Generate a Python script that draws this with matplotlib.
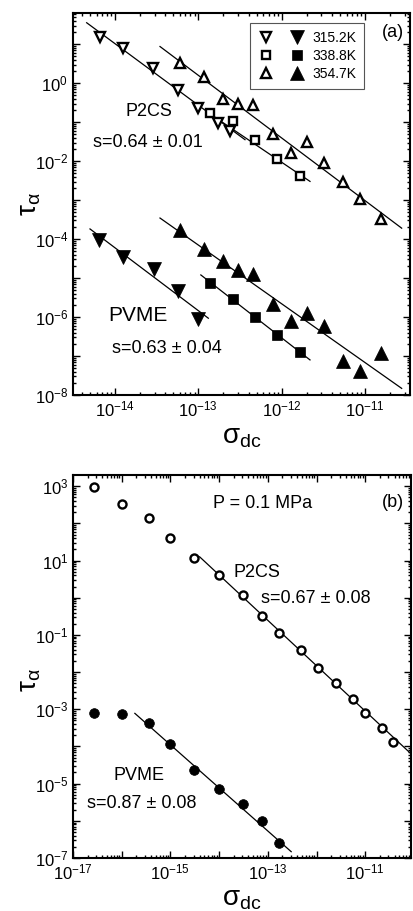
import numpy as np
import matplotlib
matplotlib.use("Agg")
import matplotlib.pyplot as plt
from matplotlib.ticker import LogLocator, FuncFormatter, NullFormatter
from matplotlib.legend_handler import HandlerTuple

plt.rcParams['font.family'] = ['Liberation Sans', 'DejaVu Sans']
plt.rcParams['mathtext.fontset'] = 'custom'
plt.rcParams['mathtext.rm'] = 'Liberation Sans'
plt.rcParams['mathtext.it'] = 'Liberation Sans:italic'
plt.rcParams['mathtext.bf'] = 'Liberation Sans:bold'

# ---------------- panel (a): log10 values ----------------
temps = ['315.2K', '338.8K', '354.7K']

sig_315 = [-14.18, -13.91, -13.54, -13.24, -13.00, -12.77, -12.62]
tau_p2cs_315 = [1.18, 0.90, 0.38, -0.17, -0.64, -1.03, -1.24]
sig_315_pvme = [-14.19, -13.91, -13.53, -13.24, -13.00]
tau_pvme_315 = [-4.02, -4.46, -4.77, -5.34, -6.05]

sig_338 = [-12.86, -12.58, -12.32, -12.06, -11.78]
tau_p2cs_338 = [-0.77, -0.98, -1.47, -1.95, -2.37]
tau_pvme_338 = [-5.13, -5.54, -6.00, -6.45, -6.90]

sig_354 = [-13.22, -12.93, -12.71, -12.52, -12.34, -12.11, -11.89, -11.70,
           -11.49, -11.27, -11.06, -10.81]
tau_p2cs_354 = [0.53, 0.15, -0.40, -0.54, -0.56, -1.30, -1.78, -1.50,
                -2.04, -2.54, -2.97, -3.49]
tau_pvme_354 = [-3.76, -4.26, -4.57, -4.79, -4.89, -5.66, -6.09, -5.90,
                -6.22, -7.14, -7.39, -6.92]

# fit lines (log10 sigma ends, log10 tau ends)
fit_p2cs_315 = ([-14.34, -12.44], [1.55, -1.45])
fit_p2cs_338 = ([-12.90, -11.66], [-0.73, -2.52])
fit_p2cs_354 = ([-13.46, -10.56], [0.94, -3.72])
fit_pvme_315 = ([-14.30, -12.88], [-3.74, -6.03])
fit_pvme_338 = ([-12.97, -11.66], [-4.92, -7.10])
fit_pvme_354 = ([-13.46, -10.56], [-3.46, -7.83])

# ---------------- panel (b): P = 0.1 MPa ----------------
sig_b = [-16.57, -15.99, -15.44, -15.01, -14.52, -14.01, -13.51, -13.12,
         -12.78, -12.31, -11.96, -11.60, -11.26, -11.00, -10.66, -10.42]
tau_p2cs_b = [2.98, 2.53, 2.15, 1.61, 1.08, 0.61, 0.07, -0.49,
              -0.94, -1.41, -1.88, -2.30, -2.73, -3.09, -3.51, -3.88]
sig_b_pvme = [-16.57, -15.99, -15.44, -15.01, -14.52, -14.01, -13.51, -13.12, -12.78]
tau_pvme_b = [-3.11, -3.14, -3.38, -3.94, -4.62, -5.15, -5.55, -6.00, -6.60]

fit_p2cs_b = ([-14.40, -10.00], [1.10, -4.27])
fit_pvme_b = ([-15.73, -12.52], [-3.11, -6.83])


def p10(v):
    return 10.0 ** np.array(v)


def fmt(parity, lo, hi):
    def f(v, pos):
        e = int(round(np.log10(v)))
        if e < lo or e > hi:
            return ''
        if parity is not None and e % 2 != parity:
            return ''
        return r'$\mathregular{10^{%d}}$' % e
    return f


def style_axes(ax, xpar, ypar):
    ax.set_xscale('log')
    ax.set_yscale('log')
    for a in (ax.xaxis, ax.yaxis):
        a.set_major_locator(LogLocator(base=10, numticks=40))
        a.set_minor_locator(LogLocator(base=10, subs=np.arange(2, 10), numticks=40))
        a.set_minor_formatter(NullFormatter())
    x0, x1 = np.log10(ax.get_xlim())
    y0, y1 = np.log10(ax.get_ylim())
    ax.xaxis.set_major_formatter(FuncFormatter(fmt(xpar, np.ceil(x0 - 1e-6), np.floor(x1 + 1e-6))))
    ax.yaxis.set_major_formatter(FuncFormatter(fmt(ypar, np.ceil(y0 - 1e-6), np.floor(y1 + 1e-6))))
    ax.tick_params(which='both', direction='in', top=True, right=True,
                   labelsize=12, width=1.0)
    ax.tick_params(which='major', length=5)
    ax.tick_params(which='minor', length=2.5)
    for s in ax.spines.values():
        s.set_linewidth(1.5)


fig = plt.figure(figsize=(4.14, 9.11), dpi=100)
ax_a = fig.add_axes([73 / 414, 1 - 395 / 911, 337 / 414, 382 / 911])
ax_b = fig.add_axes([73 / 414, 1 - 858 / 911, 338 / 414, 383 / 911])

opn = dict(ls='none', mfc='white', mec='black', mew=1.7)
fil = dict(ls='none', mfc='black', mec='black', mew=0.5)
lkw = dict(color='black', lw=0.9)

# ---- (a)
for fx, fy in [fit_p2cs_315, fit_p2cs_338, fit_p2cs_354,
               fit_pvme_315, fit_pvme_338, fit_pvme_354]:
    ax_a.plot(p10(fx), p10(fy), **lkw)

o1, = ax_a.plot(p10(sig_315), p10(tau_p2cs_315), 'v', ms=7.5, **opn)
o2, = ax_a.plot(p10(sig_338), p10(tau_p2cs_338), 's', ms=6, **opn)
o3, = ax_a.plot(p10(sig_354), p10(tau_p2cs_354), '^', ms=7.5, **opn)
f1, = ax_a.plot(p10(sig_315_pvme), p10(tau_pvme_315), 'v', ms=9.5, **fil)
f2, = ax_a.plot(p10(sig_338), p10(tau_pvme_338), 's', ms=7.5, **fil)
f3, = ax_a.plot(p10(sig_354), p10(tau_pvme_354), '^', ms=9.5, **fil)

ax_a.set_xlim(10 ** -14.504, 10 ** -10.46)
ax_a.set_ylim(1e-8, 10 ** 1.8)
style_axes(ax_a, None, 0)

leg = ax_a.legend([(o1, f1), (o2, f2), (o3, f3)], temps,
                  handler_map={tuple: HandlerTuple(ndivide=None, pad=1.0)},
                  loc='upper right', bbox_to_anchor=(0.863, 0.974),
                  fontsize=10, handlelength=3.4, handletextpad=0.5,
                  labelspacing=0.3, borderpad=0.55, borderaxespad=0,
                  fancybox=False, framealpha=1, edgecolor='#555555')
leg.get_frame().set_linewidth(0.8)

ax_a.text(0.155, 0.742, 'P2CS', transform=ax_a.transAxes, fontsize=13, va='center')
ax_a.text(0.060, 0.660, 's=0.64 ± 0.01', transform=ax_a.transAxes, fontsize=13, va='center')
ax_a.text(0.104, 0.209, 'PVME', transform=ax_a.transAxes, fontsize=15, va='center')
ax_a.text(0.116, 0.122, 's=0.63 ± 0.04', transform=ax_a.transAxes, fontsize=13, va='center')
ax_a.text(0.982, 0.950, '(a)', transform=ax_a.transAxes, fontsize=13, va='center', ha='right')

ax_a.set_xlabel('σ$_{\\mathregular{dc}}$', fontsize=20)
ax_a.set_ylabel('τ$_{\\mathregular{α}}$', fontsize=20)
ax_a.xaxis.set_label_coords(0.5, -0.075)
ax_a.yaxis.set_label_coords(-0.09, 0.5)

# ---- (b)
ax_b.plot(p10(fit_p2cs_b[0]), p10(fit_p2cs_b[1]), **lkw)
ax_b.plot(p10(fit_pvme_b[0]), p10(fit_pvme_b[1]), **lkw)
ax_b.plot(p10(sig_b), p10(tau_p2cs_b), 'o', ms=5.8, mfc='white', mec='black', mew=1.7, ls='none')
ax_b.plot(p10(sig_b_pvme), p10(tau_pvme_b), 'o', ms=7, **fil)

ax_b.set_xlim(1e-17, 10 ** -10.06)
ax_b.set_ylim(1e-7, 10 ** 3.3)
style_axes(ax_b, 1, 1)

ax_b.text(0.415, 0.926, 'P = 0.1 MPa', transform=ax_b.transAxes, fontsize=13, va='center')
ax_b.text(0.979, 0.928, '(b)', transform=ax_b.transAxes, fontsize=13, va='center', ha='right')
ax_b.text(0.475, 0.745, 'P2CS', transform=ax_b.transAxes, fontsize=13, va='center')
ax_b.text(0.555, 0.678, 's=0.67 ± 0.08', transform=ax_b.transAxes, fontsize=13, va='center')
ax_b.text(0.119, 0.215, 'PVME', transform=ax_b.transAxes, fontsize=13, va='center')
ax_b.text(0.042, 0.143, 's=0.87 ± 0.08', transform=ax_b.transAxes, fontsize=13, va='center')

ax_b.set_xlabel('σ$_{\\mathregular{dc}}$', fontsize=20)
ax_b.set_ylabel('τ$_{\\mathregular{α}}$', fontsize=20)
ax_b.xaxis.set_label_coords(0.5, -0.072)
ax_b.yaxis.set_label_coords(-0.09, 0.465)

fig.savefig('out.png', dpi=100)
